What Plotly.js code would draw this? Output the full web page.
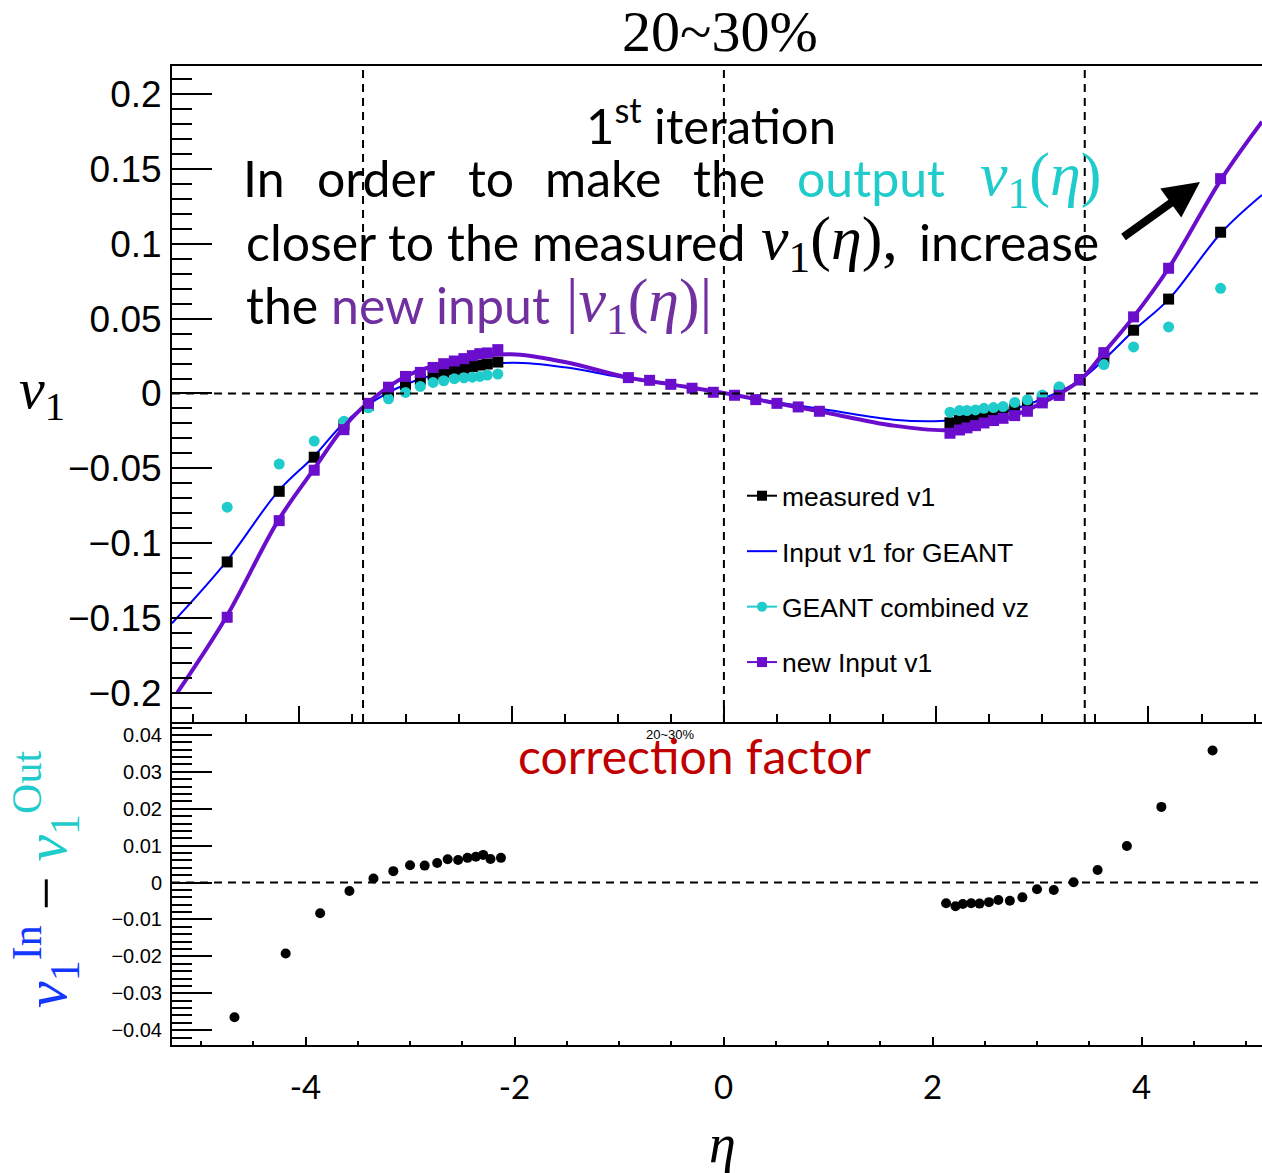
<!DOCTYPE html>
<html>
<head>
<meta charset="utf-8">
<script src="https://cdn.plot.ly/plotly-3.0.1.min.js"></script>
<style>html,body{margin:0;padding:0;background:#fff;}</style>
</head>
<body>
<div id="chart" style="width:1262px;height:1173px;"></div>
<script>
// eta bins of the forward / backward points
const etaBins = [-4.68, -4.19, -3.86, -3.58, -3.35, -3.16, -3.00, -2.86, -2.74, -2.64, -2.54, -2.45, -2.37, -2.30, -2.23, -2.13,
                 2.13, 2.22, 2.29, 2.37, 2.45, 2.54, 2.63, 2.74, 2.86, 3.00, 3.16, 3.35, 3.58, 3.86, 4.19, 4.68];
// measured v1
const measuredV1 = [-0.1126, -0.0654, -0.0426, -0.0210, -0.0078, 0.0003, 0.0060, 0.0094, 0.0124, 0.0142, 0.0158, 0.0169, 0.0180, 0.0190, 0.0197, 0.0210,
                    -0.0196, -0.0179, -0.0172, -0.0163, -0.0148, -0.0138, -0.0127, -0.0104, -0.0080, -0.0037, 0.0016, 0.0092, 0.0235, 0.0423, 0.0631, 0.1078];
// GEANT output, combined vz
const geantV1 = [-0.0760, -0.0472, -0.0318, -0.0186, -0.0096, -0.0036, 0.0007, 0.0047, 0.0074, 0.0085, 0.0099, 0.0105, 0.0109, 0.0114, 0.0123, 0.0130,
                 -0.0125, -0.0114, -0.0114, -0.0110, -0.0099, -0.0094, -0.0087, -0.0060, -0.0042, -0.0011, 0.0045, 0.0090, 0.0193, 0.0311, 0.0445, 0.0703];
// new input v1
const newInputV1 = [-0.1496, -0.0850, -0.0513, -0.0242, -0.0066, 0.0042, 0.0114, 0.0141, 0.0174, 0.0199, 0.0217, 0.0233, 0.0253, 0.0266, 0.0271, 0.0293,
                    -0.0266, -0.0244, -0.0230, -0.0215, -0.0197, -0.0181, -0.0166, -0.0148, -0.0119, -0.0063, -0.0013, 0.0092, 0.0273, 0.0512, 0.0837, 0.1436];
// correction factor v1(In) - v1(Out)
const correction = [-0.0365, -0.0192, -0.0083, -0.0023, 0.0011, 0.0031, 0.0047, 0.0046, 0.0053, 0.0063, 0.0061, 0.0067, 0.0070, 0.0075, 0.0064, 0.0067,
                    -0.0056, -0.0064, -0.0058, -0.0056, -0.0057, -0.0053, -0.0047, -0.0049, -0.0040, -0.0018, -0.0020, 0.0001, 0.0034, 0.0099, 0.0205, 0.0358];
// mid-rapidity bins
const etaMid = [-0.9, -0.7, -0.5, -0.3, -0.1, 0.1, 0.3, 0.5, 0.7, 0.9];
const newInputMid = [0.0106, 0.0088, 0.0061, 0.0035, 0.0008, -0.0012, -0.0041, -0.0066, -0.0090, -0.0119];
// input v1 curve used for GEANT
const etaInputCurve = [-5.2, -4.69, -4.2, -3.87, -3.6, -3.36, -3.0, -2.5, -2.0, -1.5, -1.0, -0.5, 0, 0.5, 1.0, 1.6, 2.04, 2.5, 3.0, 3.36, 3.6, 3.87, 4.2, 4.69, 5.07];
const v1InputCurve = [-0.1536, -0.1126, -0.0654, -0.0426, -0.0212, -0.0078, 0.0060, 0.0163, 0.0205, 0.0175, 0.0112, 0.0058, 0.0, -0.0058, -0.0112, -0.0175, -0.0184, -0.0148, -0.0037, 0.0092, 0.0240, 0.0426, 0.0636, 0.1078, 0.1327];
// new input v1 curve
const etaNewCurve = [-5.15, -4.69, -4.2, -3.87, -3.6, -3.36, -3.0, -2.5, -2.0, -1.5, -0.9, -0.5, 0, 0.5, 0.9, 1.6, 2.1, 2.5, 3.0, 3.36, 3.58, 3.86, 4.19, 4.69, 5.07];
const v1NewCurve = [-0.2000, -0.1496, -0.0850, -0.0513, -0.0242, -0.0066, 0.0114, 0.0225, 0.0262, 0.0210, 0.0106, 0.0061, 0.0003, -0.0066, -0.0119, -0.0215, -0.0245, -0.0205, -0.0063, 0.0092, 0.0273, 0.0512, 0.0837, 0.1436, 0.1817];

// tick labels
const upperTickVals = [-0.2, -0.15, -0.1, -0.05, 0, 0.05, 0.1, 0.15, 0.2];
const upperTickText = ['\u22120.2', '\u22120.15', '\u22120.1', '\u22120.05', '0', '0.05', '0.1', '0.15', '0.2'];
const lowerTickVals = [-0.04, -0.03, -0.02, -0.01, 0, 0.01, 0.02, 0.03, 0.04];
const lowerTickText = ['\u22120.04', '\u22120.03', '\u22120.02', '\u22120.01', '0', '0.01', '0.02', '0.03', '0.04'];
const etaTickVals = [-4, -2, 0, 2, 4];
const etaTickText = ['-4', '-2', '0', '2', '4'];
const etaCuts = [-3.4, 0, 3.4];

// colours
const cBlack = '#000000', cBlue = '#0000FF', cCyan = '#1FCBCB', cPurple = '#6A0DCC';

// page geometry helpers (pixel -> paper fraction)
const W = 1262, H = 1173, ML = 172, MR = 0, MT = 66, MB = 128;
const PW = W - ML - MR, PH = H - MT - MB;
const px = x => (x - ML) / PW;
const py = y => (H - MB - y) / PH;
const splitY = py(722);

const traces = [
  {x: etaInputCurve, y: v1InputCurve, xaxis: 'x', yaxis: 'y', mode: 'lines', line: {color: cBlue, width: 2, shape: 'spline'}, showlegend: false, hoverinfo: 'skip'},
  {x: etaBins, y: measuredV1, xaxis: 'x', yaxis: 'y', mode: 'markers', marker: {symbol: 'square', size: 11, color: cBlack}, showlegend: false},
  {x: etaBins, y: geantV1, xaxis: 'x', yaxis: 'y', mode: 'markers', marker: {symbol: 'circle', size: 11, color: cCyan}, showlegend: false},
  {x: etaNewCurve, y: v1NewCurve, xaxis: 'x', yaxis: 'y', mode: 'lines', line: {color: cPurple, width: 4, shape: 'spline'}, showlegend: false, hoverinfo: 'skip'},
  {x: etaBins, y: newInputV1, xaxis: 'x', yaxis: 'y', mode: 'markers', marker: {symbol: 'square', size: 11, color: cPurple}, showlegend: false},
  {x: etaMid, y: newInputMid, xaxis: 'x', yaxis: 'y', mode: 'markers', marker: {symbol: 'square', size: 11, color: cPurple}, showlegend: false},
  {x: etaBins, y: correction, xaxis: 'x2', yaxis: 'y2', mode: 'markers', marker: {symbol: 'circle', size: 10, color: cBlack}, showlegend: false},
  // legend entries
  {x: [null], y: [null], xaxis: 'x', yaxis: 'y', name: 'measured v1', legendgroup: 'a', mode: 'lines+markers', line: {color: cBlack, width: 2}, marker: {symbol: 'square', size: 10, color: cBlack}},
  {x: [null], y: [null], xaxis: 'x', yaxis: 'y', name: 'Input v1 for GEANT', legendgroup: 'b', mode: 'lines', line: {color: cBlue, width: 2}},
  {x: [null], y: [null], xaxis: 'x', yaxis: 'y', name: 'GEANT combined vz', legendgroup: 'c', mode: 'lines+markers', line: {color: cCyan, width: 2}, marker: {symbol: 'circle', size: 10, color: cCyan}},
  {x: [null], y: [null], xaxis: 'x', yaxis: 'y', name: 'new Input v1', legendgroup: 'd', mode: 'lines+markers', line: {color: cPurple, width: 2}, marker: {symbol: 'square', size: 10, color: cPurple}}
];

const tickFont = {family: 'Liberation Sans, Arial, sans-serif', color: '#000'};
const axisBase = {showgrid: false, zeroline: false, showline: true, linecolor: '#000', linewidth: 2,
                  ticks: 'inside', tickcolor: '#000', tickwidth: 2};

const layout = {
  width: W, height: H,
  margin: {l: ML, r: MR, t: MT, b: MB, pad: 0},
  paper_bgcolor: '#fff', plot_bgcolor: '#fff',
  showlegend: true,
  legend: {x: px(742), xanchor: 'left', y: py(472), yanchor: 'top', traceorder: 'grouped', tracegroupgap: 18,
           itemwidth: 30, bgcolor: 'rgba(0,0,0,0)', borderwidth: 0,
           font: {family: 'Liberation Sans, Arial, sans-serif', size: 26.5, color: '#000'}},
  xaxis: Object.assign({}, axisBase, {domain: [0, 1], anchor: 'y', range: [-5.2, 5.07], mirror: true,
          tickmode: 'array', tickvals: etaTickVals, ticklen: 16, showticklabels: false,
          minor: {ticks: 'inside', dtick: 0.5, tick0: 0, ticklen: 8, tickwidth: 2, tickcolor: '#000'}}),
  yaxis: Object.assign({}, axisBase, {domain: [splitY, 1], anchor: 'x', range: [-0.2196, 0.2189],
          tickmode: 'array', tickvals: upperTickVals, ticktext: upperTickText, ticklen: 40,
          ticklabelstandoff: 1, tickfont: Object.assign({size: 37}, tickFont),
          minor: {ticks: 'inside', dtick: 0.01, tick0: 0, ticklen: 20, tickwidth: 2, tickcolor: '#000'}}),
  xaxis2: Object.assign({}, axisBase, {domain: [0, 1], anchor: 'y2', range: [-5.278, 5.153],
          tickmode: 'array', tickvals: etaTickVals, ticktext: etaTickText, ticklen: 8,
          ticklabelstandoff: 12, tickfont: {family: 'Lato, sans-serif', size: 33, color: '#000'},
          minor: {ticks: 'inside', dtick: 0.5, tick0: 0, ticklen: 4, tickwidth: 2, tickcolor: '#000'}}),
  yaxis2: Object.assign({}, axisBase, {domain: [0, splitY], anchor: 'x2', range: [-0.0440, 0.0435],
          tickmode: 'array', tickvals: lowerTickVals, ticktext: lowerTickText, ticklen: 40,
          ticklabelstandoff: 4, tickfont: Object.assign({size: 20}, tickFont),
          minor: {ticks: 'inside', dtick: 0.002, tick0: 0, ticklen: 20, tickwidth: 2, tickcolor: '#000'}}),
  shapes: [
    {type: 'line', xref: 'paper', x0: 0, x1: 1, yref: 'y', y0: 0, y1: 0, line: {color: '#000', width: 2, dash: '8px,6px'}},
    {type: 'line', xref: 'paper', x0: 0, x1: 1, yref: 'y2', y0: 0, y1: 0, line: {color: '#000', width: 2, dash: '8px,6px'}}
  ].concat(etaCuts.map(e => ({type: 'line', xref: 'x', x0: e, x1: e, yref: 'y domain', y0: 0, y1: 1,
                                line: {color: '#000', width: 2, dash: '8px,6px'}}))),
  annotations: []
};

const serif = 'Liberation Serif, DejaVu Serif, serif';
const body = 'Lato, Open Sans, sans-serif';
const cyanText = '#1FCBCB', purpleText = '#7030A0';
const math = '<i>v</i><sub>1</sub>(<i>\u03b7</i>)';
function note(text, x, y, opts) {
  layout.annotations.push(Object.assign({text: text, xref: 'paper', yref: 'paper', x: px(x), y: py(y),
    xanchor: 'center', yanchor: 'middle', showarrow: false, borderpad: 0}, opts || {}));
}

// titles
note('20~30%', 720, 32, {font: {family: serif, size: 58, color: '#000'}});
note('<i>v</i><sub>1</sub>', 42, 393, {font: {family: serif, size: 58, color: '#000'}});
note('<i>\u03b7</i>', 722, 1144, {font: {family: serif, size: 54, color: '#000'}});
note('<span style="color:#1437FF"><i>v</i><sub>1</sub><sup>In</sup></span> \u2212 <span style="color:' + cyanText + '"><i>v</i><sub>1</sub><sup>Out</sup></span>',
     46, 880, {textangle: -90, font: {family: serif, size: 60, color: '#000'}});
note('20~30%', 670, 734, {font: {family: 'Liberation Sans, Arial, sans-serif', size: 13, color: '#000'}});
note('correction factor', 695, 755, {font: {family: body, size: 48, color: '#C00000'}});

// explanatory text
note('1<sup>st</sup> iteration', 711, 122, {font: {family: body, size: 49, color: '#000'}});
const line1 = [['In', 264], ['order', 376], ['to', 491], ['make', 603], ['the', 729]];
line1.forEach(w => note(w[0], w[1], 178, {font: {family: body, size: 50, color: '#000'}}));
note('output', 871, 178, {font: {family: body, size: 50, color: cyanText}});
note(math, 1040, 178, {font: {family: serif, size: 62, color: cyanText}});
note('closer to the measured', 245, 242, {xanchor: 'left', font: {family: body, size: 50, color: '#000'}});
note(math + ',', 829, 242, {font: {family: serif, size: 62, color: '#000'}});
note('increase', 1100, 242, {xanchor: 'right', font: {family: body, size: 50, color: '#000'}});
note('the', 245, 305, {xanchor: 'left', font: {family: body, size: 50, color: '#000'}});
note('new input', 330, 305, {xanchor: 'left', font: {family: body, size: 50, color: purpleText}});
note('|' + math + '|', 639, 305, {font: {family: serif, size: 62, color: purpleText}});

// arrow towards the raised new input
layout.annotations.push({text: '', xref: 'paper', yref: 'paper', x: px(1200), y: py(182),
  ax: -78, ay: 56, showarrow: true, arrowhead: 2, arrowsize: 0.9, arrowwidth: 8, arrowcolor: '#000'});

Plotly.newPlot('chart', traces, layout, {displayModeBar: false, staticPlot: true});
</script>
</body>
</html>
